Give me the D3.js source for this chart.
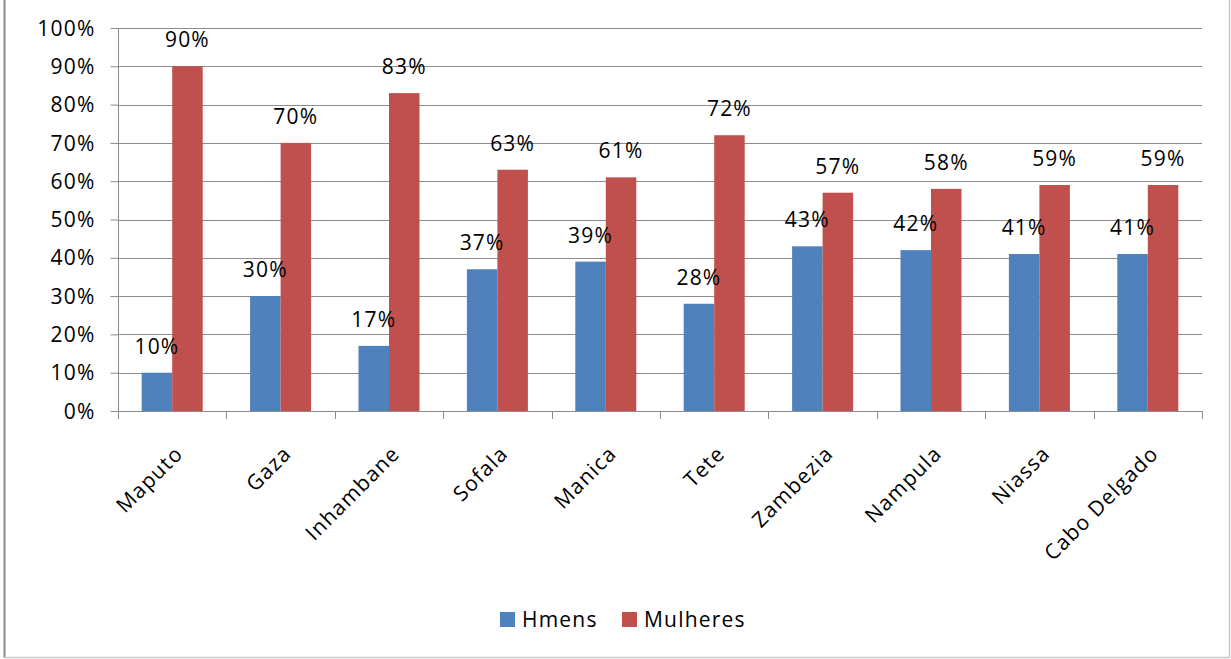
<!DOCTYPE html>
<html><head><meta charset="utf-8">
<script src="https://cdn.jsdelivr.net/npm/d3@7"></script>
<style>
html,body{margin:0;padding:0;background:#fff;}
text{font-family:"Open Sans","Noto Sans",sans-serif;fill:#000;}
</style></head>
<body>
<svg id="c" width="1231" height="659"></svg>
<script>
const categories = ["Maputo","Gaza","Inhambane","Sofala","Manica","Tete","Zambezia","Nampula","Niassa","Cabo Delgado"];
const hmens = [10,30,17,37,39,28,43,42,41,41];
const mulheres = [90,70,83,63,61,72,57,58,59,59];
const seriesNames = ["Hmens","Mulheres"];
const yTicks = [0,10,20,30,40,50,60,70,80,90,100];
const colors = ["#4F81BD","#C0504D"];

const svg = d3.select("#c");
const pL = 118, pR = 1202, pT = 28, pB = 411;
const FS = 21, LS = 1.2;

// frame
svg.append("line").attr("x1",4.5).attr("x2",4.5).attr("y1",0).attr("y2",658).attr("stroke","#8a8a8a").attr("stroke-width",2);
svg.append("line").attr("x1",1229.5).attr("x2",1229.5).attr("y1",0).attr("y2",658).attr("stroke","#c8c8c8").attr("stroke-width",1.5);
svg.append("line").attr("x1",4).attr("x2",1230).attr("y1",657.5).attr("y2",657.5).attr("stroke","#c8c8c8").attr("stroke-width",1.5);

const x = d3.scaleBand().domain(categories).range([pL,pR]).padding(0);
const xs = d3.scaleBand().domain(seriesNames).range([0,x.bandwidth()]).paddingInner(0).paddingOuter(0.777);
const y = d3.scaleLinear().domain([0,100]).range([pB,pT]);

// gridlines
svg.append("g").selectAll("line").data(yTicks.filter(d=>d>0)).join("line")
  .attr("x1",pL).attr("x2",pR).attr("y1",d=>Math.round(y(d))+0.5).attr("y2",d=>Math.round(y(d))+0.5)
  .attr("stroke","#8c8c8c").attr("stroke-width",1);

// y axis
const yAxis = d3.axisLeft(y).tickValues(yTicks).tickSize(8).tickPadding(15).tickFormat(d=>d+"%");
const gy = svg.append("g").attr("transform",`translate(${pL+0.5},0)`).call(yAxis);
gy.select(".domain").attr("stroke","#8c8c8c").attr("d",`M0,${pT}V${pB}`);
gy.selectAll(".tick line").attr("stroke","#8c8c8c");
gy.selectAll(".tick text").attr("font-size",FS).attr("letter-spacing",LS).attr("font-family","Open Sans").attr("fill","#000").attr("dy","0.34em");

// x axis line + ticks
svg.append("line").attr("x1",pL).attr("x2",pR).attr("y1",pB+0.5).attr("y2",pB+0.5).attr("stroke","#8c8c8c");
const bounds = categories.map(c=>x(c)).concat([pR]);
svg.append("g").selectAll("line").data(bounds).join("line")
  .attr("x1",d=>Math.round(d)+0.5).attr("x2",d=>Math.round(d)+0.5).attr("y1",pB).attr("y2",pB+8).attr("stroke","#8c8c8c");

// bars
const data = [hmens, mulheres];
data.forEach((vals,si)=>{
  const g = svg.append("g");
  g.selectAll("rect").data(vals).join("rect")
    .attr("x",(d,i)=>x(categories[i])+xs(seriesNames[si]))
    .attr("width",xs.bandwidth())
    .attr("y",d=>y(d)).attr("height",d=>pB-y(d))
    .attr("fill",colors[si]);
});
// labels
data.forEach((vals,si)=>{
  svg.append("g").selectAll("text").data(vals).join("text")
    .attr("x",(d,i)=>x(categories[i])+xs(seriesNames[si])+xs.bandwidth()/2)
    .attr("y",d=>y(d)-19)
    .attr("text-anchor","middle").attr("font-size",FS).attr("letter-spacing",LS)
    .text(d=>d+"%");
});

// category labels
svg.append("g").selectAll("text").data(categories).join("text")
  .attr("transform",c=>`translate(${x(c)+x.bandwidth()/2+12},${pB+44}) rotate(-45)`)
  .attr("text-anchor","end").attr("font-size",FS).attr("letter-spacing",LS)
  .text(c=>c);

// legend
const legendX = [500,622];
seriesNames.forEach((n,i)=>{
  svg.append("rect").attr("x",legendX[i]).attr("y",612).attr("width",15).attr("height",15).attr("fill",colors[i]);
  svg.append("text").attr("x",legendX[i]+22).attr("y",627).attr("font-size",FS).attr("letter-spacing",LS).text(n);
});
</script>
</body></html>
